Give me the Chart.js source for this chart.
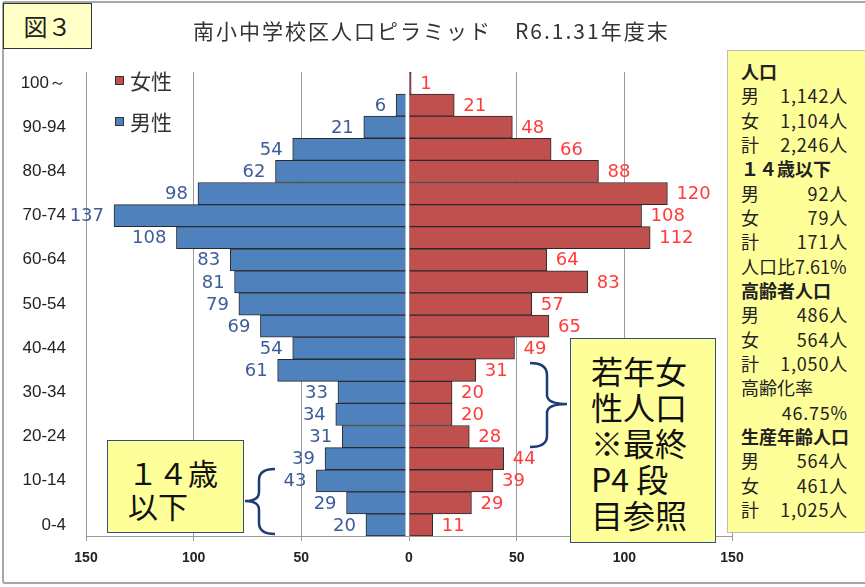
<!DOCTYPE html>
<html>
<head>
<meta charset="utf-8">
<script src="https://cdn.jsdelivr.net/npm/chart.js@4.4.1/dist/chart.umd.min.js"></script>
<style>
    body { margin: 0; background: #fff; font-family: "Noto Sans CJK JP", sans-serif; }
    #wrap { position: relative; width: 865px; height: 587px; overflow: hidden; }
    #frame { position: absolute; left: 2px; top: 1px; width: 900px; height: 579px; border: 2px solid #a6a6a6; border-radius: 3px; }
    #chart { position: absolute; left: 0; top: 0; }
    .abs { position: absolute; }
    #fig { left: 3px; top: 3px; width: 87px; height: 44px; background: #ffffc6; border: 1px solid #333;
        font-size: 24px; line-height: 44px; text-align: center; color: #222; }
    #title { left: 193px; top: 15px; font-size: 21px; letter-spacing: 2px; color: #333; white-space: pre; }
    .legend { left: 115px; font-size: 21px; color: #333; line-height: 24px; }
    .legend i { display: inline-block; width: 7px; height: 7px; border: 1px solid #333; margin-right: 6px; vertical-align: 4px; }
    #panel { left: 727px; top: 50px; width: 160px; height: 483px; background: #ffff9a; border: 1px solid #bbb;
        padding-top: 8px; box-sizing: border-box; }
    .row { position: relative; height: 24.33px; line-height: 24.33px; font-size: 18px; color: #222; padding-left: 13px; white-space: pre; }
    .row b { font-weight: bold; }
    .row span { position: absolute; right: 38px; top: 0; letter-spacing: 0.8px; }
    .note { background: #ffff99; border: 1px solid #2f4f7f; color: #111; white-space: pre; box-sizing: border-box; }
    #kids { left: 107px; top: 440px; width: 137px; height: 93px; font-size: 30px; line-height: 33px; padding: 15px 0 0 20px; }
    #young { left: 570px; top: 338px; width: 146px; height: 205px; font-size: 32px; line-height: 36px; padding: 13px 0 0 20px; }
</style>
</head>
<body>
<div id="wrap">
    <div id="frame"></div>
    <canvas id="chart" width="865" height="587"></canvas>

    <div id="panel" class="abs">
        <div class="row"><b>人口</b></div>
        <div class="row">男<span>1,142人</span></div>
        <div class="row">女<span>1,104人</span></div>
        <div class="row">計<span>2,246人</span></div>
        <div class="row"><b>１４歳以下</b></div>
        <div class="row">男<span>92人</span></div>
        <div class="row">女<span>79人</span></div>
        <div class="row">計<span>171人</span></div>
        <div class="row">人口比7.61%</div>
        <div class="row"><b>高齢者人口</b></div>
        <div class="row">男<span>486人</span></div>
        <div class="row">女<span>564人</span></div>
        <div class="row">計<span>1,050人</span></div>
        <div class="row">高齢化率</div>
        <div class="row"><span>46.75%</span></div>
        <div class="row"><b>生産年齢人口</b></div>
        <div class="row">男<span>564人</span></div>
        <div class="row">女<span>461人</span></div>
        <div class="row">計<span>1,025人</span></div>
    </div>

    <div id="fig" class="abs">図３</div>
    <div id="title" class="abs">南小中学校区人口ピラミッド　R6.1.31年度末</div>
    <div class="abs legend" style="top: 68px;"><i style="background:#c0504d"></i>女性</div>
    <div class="abs legend" style="top: 109px;"><i style="background:#4f81bd"></i>男性</div>

    <div id="kids" class="abs note">１４歳
以下</div>
    <div id="young" class="abs note">若年女
性人口
※最終
P4 段
目参照</div>

    <svg class="abs" style="left:0;top:0" width="865" height="587">
        <g fill="none" stroke="#1f3a78" stroke-width="2.5">
            <path d="M275,469 Q259,469 259,480 L259,492 Q259,501 245,501 Q259,501 259,510 L259,523 Q259,534 275,534"/>
            <path d="M530,363 Q547,363 547,375 L547,395 Q547,404 567,404 Q547,404 547,413 L547,436 Q547,447 530,447"/>
        </g>
    </svg>
</div>

<script>
// age groups, top row first
const ageGroups = ['100～', '95-99', '90-94', '85-89', '80-84', '75-79', '70-74', '65-69', '60-64', '55-59',
    '50-54', '45-49', '40-44', '35-39', '30-34', '25-29', '20-24', '15-19', '10-14', '5-9', '0-4'];

const maleCounts = [0, 6, 21, 54, 62, 98, 137, 108, 83, 81, 79, 69, 54, 61, 33, 34, 31, 39, 43, 29, 20];
const femaleCounts = [1, 21, 48, 66, 88, 120, 108, 112, 64, 83, 57, 65, 49, 31, 20, 20, 28, 44, 39, 29, 11];

const axisMin = -150;
const axisMax = 150;
const axisStep = 50;

// draws the value next to the end of each bar
const valueLabels = {
    id: 'valueLabels',
    afterDatasetsDraw(chart) {
        const ctx = chart.ctx;
        const x0 = chart.scales.x.getPixelForValue(0);
        const area = chart.chartArea;

        // white split between the two halves
        ctx.save();
        ctx.fillStyle = '#fff';
        ctx.fillRect(x0 - 3.5, area.top, 3.5, area.bottom - area.top);

        ctx.font = '18px "DejaVu Sans"';
        ctx.textBaseline = 'middle';
        chart.data.datasets.forEach((ds, i) => {
            const meta = chart.getDatasetMeta(i);
            const counts = i === 0 ? femaleCounts : maleCounts;
            meta.data.forEach((bar, j) => {
                if (!counts[j]) return;
                if (i === 0) {
                    ctx.fillStyle = '#ff3b3b';
                    ctx.textAlign = 'left';
                    ctx.fillText(counts[j], bar.x + 9, bar.y + 1);
                } else {
                    ctx.fillStyle = '#3d5c99';
                    ctx.textAlign = 'right';
                    ctx.fillText(counts[j], bar.x - 10, bar.y + 1);
                }
            });
        });
        ctx.restore();
    }
};

new Chart(document.getElementById('chart'), {
    type: 'bar',
    data: {
        labels: ageGroups,
        datasets: [
            {
                label: '女性',
                data: femaleCounts,
                backgroundColor: '#c0504d',
                borderColor: '#2a2a2a',
                borderWidth: 1
            },
            {
                label: '男性',
                data: maleCounts.map(v => -v),
                backgroundColor: '#4f81bd',
                borderColor: '#2a2a2a',
                borderWidth: 1
            }
        ]
    },
    options: {
        indexAxis: 'y',
        responsive: false,
        animation: false,
        events: [],
        layout: { padding: { top: 72, right: 133, left: 0, bottom: 0 } },
        datasets: { bar: { barPercentage: 1, categoryPercentage: 1 } },
        plugins: {
            legend: { display: false },
            title: { display: false },
            tooltip: { enabled: false }
        },
        scales: {
            x: {
                stacked: true,
                min: axisMin,
                max: axisMax,
                afterFit: s => { s.height = 51; },
                grid: { color: '#9a9a9a', tickColor: '#9a9a9a', tickLength: 5 },
                border: { display: true, color: '#9a9a9a' },
                ticks: {
                    stepSize: axisStep,
                    padding: 9,
                    color: '#222',
                    font: { family: 'Liberation Sans', size: 14, weight: 'bold' },
                    callback: v => Math.abs(v)
                }
            },
            y: {
                stacked: true,
                afterFit: s => { s.width = 86; },
                grid: { display: false, drawTicks: false },
                border: { display: false },
                ticks: {
                    autoSkip: false,
                    padding: 20,
                    color: '#222',
                    font: { family: 'Liberation Sans', size: 17 },
                    callback: function (v, i) { return i % 2 === 0 ? this.getLabelForValue(v) : ''; }
                }
            }
        }
    },
    plugins: [valueLabels]
});
</script>
</body>
</html>
